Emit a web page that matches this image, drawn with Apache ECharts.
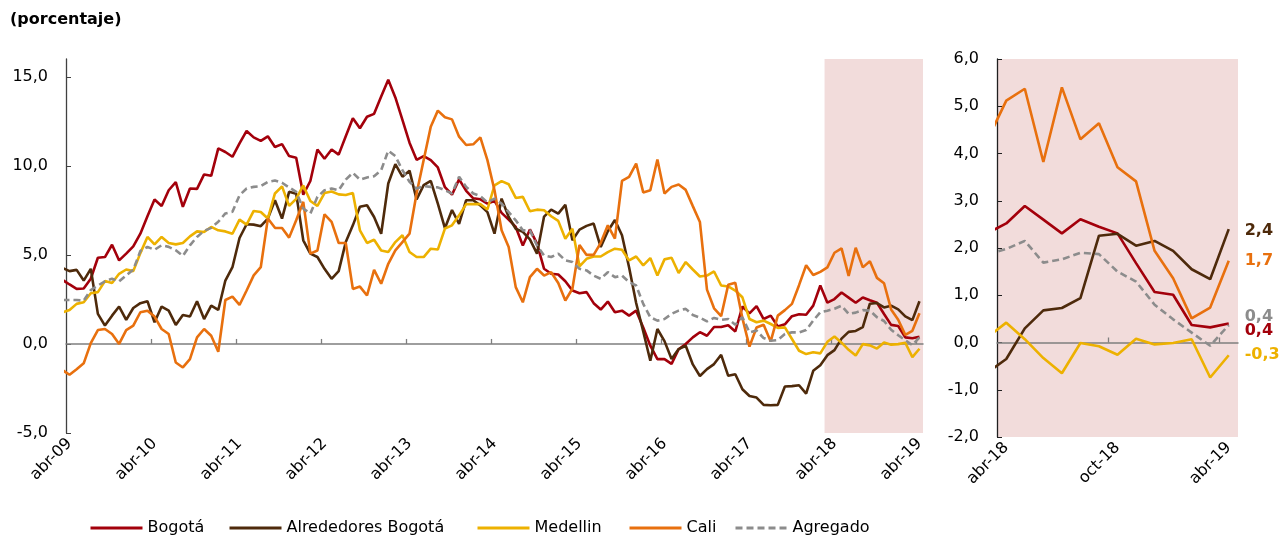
<!DOCTYPE html>
<html><head><meta charset="utf-8">
<script src="https://cdn.jsdelivr.net/npm/echarts@6/dist/echarts.min.js"></script>
<style>html,body{margin:0;padding:0;background:#fff}#c{width:1284px;height:536px}</style>
</head><body><div id="c"></div>
<script>
// Monthly series, mar-09 ... abr-19 (122 values). Left panel shows abr-09..abr-19,
// right panel zooms into abr-18..abr-19.
const leftTickLabels = ['abr-09','abr-10','abr-11','abr-12','abr-13','abr-14','abr-15','abr-16','abr-17','abr-18','abr-19'];
const rightTickLabels = ['abr-18','oct-18','abr-19'];
const seriesNames = ['Bogotá','Alrededores Bogotá','Medellin','Cali','Agregado'];

const bogota = [
 3.60, 3.34, 3.09, 3.11, 3.66, 4.84, 4.88, 5.57, 4.69, 5.07, 5.48, 6.19,
 7.17, 8.11, 7.75, 8.63, 9.09, 7.70, 8.73, 8.71, 9.52, 9.44, 10.98, 10.78,
 10.51, 11.26, 11.96, 11.60, 11.40, 11.66, 11.06, 11.22, 10.55, 10.46, 8.38, 9.15,
 10.92, 10.40, 10.92, 10.63, 11.66, 12.67, 12.11, 12.76, 12.92, 13.89, 14.83, 13.84,
 12.58, 11.30, 10.34, 10.55, 10.32, 9.91, 8.80, 8.38, 9.24, 8.60, 8.18, 8.12,
 7.88, 8.03, 7.36, 6.98, 6.57, 5.53, 6.43, 5.63, 4.22, 3.94, 3.90, 3.52,
 3.00, 2.85, 2.91, 2.29, 1.93, 2.38, 1.78, 1.87, 1.59, 1.87, 0.93, -0.10,
 -0.85, -0.85, -1.12, -0.30, 0.00, 0.37, 0.66, 0.46, 0.95, 0.95, 1.05, 0.70,
 2.10, 1.72, 2.12, 1.40, 1.59, 0.98, 1.10, 1.56, 1.67, 1.64, 2.15, 3.28,
 2.32, 2.52, 2.89, 2.60, 2.31, 2.61, 2.45, 2.31, 1.68, 1.07, 1.01, 0.37,
 0.32, 0.40
];
const alrededores = [
 4.27, 4.09, 4.16, 3.56, 4.22, 1.69, 1.03, 1.59, 2.10, 1.35, 2.02, 2.29,
 2.40, 1.22, 2.10, 1.87, 1.07, 1.63, 1.54, 2.40, 1.40, 2.15, 1.91, 3.56,
 4.31, 5.95, 6.72, 6.70, 6.61, 7.04, 8.07, 7.04, 8.54, 8.44, 5.82, 5.07,
 4.88, 4.22, 3.66, 4.09, 5.72, 6.66, 7.70, 7.79, 7.13, 6.19, 9.01, 10.10,
 9.39, 9.73, 8.11, 8.92, 9.16, 7.88, 6.50, 7.52, 6.74, 8.07, 8.07, 7.78,
 7.40, 6.19, 8.16, 7.13, 6.47, 6.29, 5.87, 5.07, 7.15, 7.54, 7.32, 7.81,
 5.82, 6.42, 6.63, 6.76, 5.44, 6.33, 6.96, 6.10, 4.31, 2.30, 0.70, -0.94,
 0.84, 0.16, -0.85, -0.29, -0.10, -1.15, -1.80, -1.41, -1.13, -0.61, -1.79, -1.70,
 -2.54, -2.92, -3.01, -3.42, -3.44, -3.42, -2.39, -2.37, -2.32, -2.79, -1.51, -1.19,
 -0.63, -0.35, 0.30, 0.68, 0.73, 0.94, 2.26, 2.30, 2.05, 2.15, 1.94, 1.55,
 1.34, 2.40
];
const medellin = [
 1.77, 1.91, 2.25, 2.34, 2.85, 2.91, 3.53, 3.42, 3.94, 4.18, 4.09, 5.10,
 6.01, 5.59, 6.01, 5.67, 5.59, 5.67, 6.04, 6.32, 6.29, 6.57, 6.38, 6.32,
 6.19, 6.98, 6.70, 7.47, 7.41, 7.04, 8.45, 8.85, 7.75, 8.15, 8.90, 8.03,
 7.75, 8.47, 8.56, 8.40, 8.36, 8.47, 6.38, 5.67, 5.85, 5.25, 5.16, 5.72,
 6.10, 5.16, 4.88, 4.88, 5.35, 5.30, 6.48, 6.66, 7.22, 7.85, 7.85, 7.85,
 7.55, 8.91, 9.14, 8.97, 8.20, 8.26, 7.45, 7.54, 7.51, 7.17, 6.91, 5.91,
 6.47, 4.36, 4.78, 4.91, 4.91, 5.16, 5.35, 5.29, 4.69, 4.91, 4.41, 4.82,
 3.84, 4.75, 4.84, 3.98, 4.60, 4.18, 3.79, 3.84, 4.07, 3.28, 3.23, 3.00,
 2.62, 1.40, 1.22, 1.31, 1.12, 0.90, 0.93, 0.28, -0.38, -0.57, -0.47, -0.53,
 0.12, 0.42, 0.07, -0.33, -0.65, -0.01, -0.08, -0.26, 0.08, -0.04, -0.01, 0.07,
 -0.74, -0.27
];
const cali = [
 -1.47, -1.73, -1.42, -1.09, 0.05, 0.78, 0.84, 0.56, 0.00, 0.78, 1.03, 1.78,
 1.87, 1.54, 0.84, 0.56, -1.04, -1.32, -0.85, 0.37, 0.84, 0.46, -0.44, 2.47,
 2.66, 2.19, 3.00, 3.85, 4.31, 7.04, 6.52, 6.51, 5.97, 6.95, 7.98, 5.07,
 5.25, 7.28, 6.85, 5.67, 5.67, 3.09, 3.22, 2.72, 4.16, 3.38, 4.50, 5.25,
 5.72, 6.19, 8.45, 10.33, 12.20, 13.10, 12.73, 12.61, 11.64, 11.17, 11.21, 11.60,
 10.32, 8.63, 6.38, 5.44, 3.19, 2.34, 3.75, 4.22, 3.84, 4.03, 3.42, 2.44,
 3.10, 5.56, 5.00, 5.00, 5.68, 6.66, 5.91, 9.15, 9.38, 10.13, 8.51, 8.63,
 10.36, 8.45, 8.82, 8.95, 8.65, 7.74, 6.85, 3.05, 2.00, 1.56, 3.32, 3.44,
 1.45, -0.15, 0.92, 1.08, 0.14, 1.59, 1.90, 2.25, 3.30, 4.42, 3.87, 4.05,
 4.30, 5.12, 5.37, 3.82, 5.40, 4.30, 4.64, 3.71, 3.41, 1.94, 1.36, 0.51,
 0.74, 1.73
];
const agregado = [
 2.47, 2.47, 2.47, 2.43, 3.03, 3.28, 3.52, 3.66, 3.51, 3.85, 4.17, 5.22,
 5.45, 5.29, 5.54, 5.45, 5.26, 4.94, 5.54, 6.01, 6.35, 6.52, 6.86, 7.33,
 7.42, 8.35, 8.73, 8.82, 8.86, 9.10, 9.18, 9.05, 8.79, 8.54, 7.60, 7.32,
 8.26, 8.63, 8.73, 8.63, 9.23, 9.61, 9.23, 9.35, 9.42, 9.76, 10.85, 10.55,
 9.76, 9.11, 8.73, 8.86, 8.82, 8.79, 8.63, 8.45, 9.39, 8.82, 8.45, 8.30,
 7.95, 8.16, 7.88, 7.41, 6.94, 6.38, 6.38, 5.53, 4.97, 4.88, 5.07, 4.69,
 4.60, 4.22, 4.13, 3.84, 3.66, 4.03, 3.75, 3.84, 3.47, 3.28, 2.25, 1.50,
 1.31, 1.40, 1.69, 1.87, 1.97, 1.63, 1.48, 1.27, 1.46, 1.35, 1.40, 1.08,
 1.50, 0.65, 0.75, 0.33, 0.18, 0.22, 0.56, 0.65, 0.65, 0.78, 1.31, 1.78,
 1.87, 1.98, 2.15, 1.69, 1.76, 1.90, 1.87, 1.50, 1.29, 0.80, 0.49, 0.21,
 -0.07, 0.37
];

const allSeries = [bogota, alrededores, medellin, cali, agregado];
const colors = ['#A3000B', '#4E2A0B', '#EDB100', '#E8700E', '#8C8C8C'];
const endLabelShift = [7, 2, 0, 0, -8];
const legendLeft = [89, 228, 476, 628, 734];
const FONT = 'DejaVu Sans';
const fmt = v => v.toFixed(1).replace('.', ',');

const series = [];
allSeries.forEach((arr, k) => {
  const s = {
    name: seriesNames[k], type: 'line', xAxisIndex: 0, yAxisIndex: 0,
    data: arr.map((v, i) => [i - 1, v]),
    symbol: 'none', z: 4, clip: true,
    lineStyle: { color: colors[k], width: 2.6, type: k === 4 ? [7, 4] : 'solid' },
    itemStyle: { color: colors[k] }
  };
  if (k === 0) {
    s.markArea = { silent: true, z: 1, itemStyle: { color: '#F2DCDB' },
      data: [[{ xAxis: 106.6 }, { xAxis: 120.5 }]] };
  }
  series.push(s);
});
allSeries.forEach((arr, k) => {
  series.push({
    name: seriesNames[k], type: 'line', xAxisIndex: 2, yAxisIndex: 1,
    data: arr.slice(-14).map((v, i) => [i - 1, v]),
    symbol: 'none', z: 4, clip: true,
    lineStyle: { color: colors[k], width: 2.6, type: k === 4 ? [7, 4] : 'solid' },
    itemStyle: { color: colors[k] },
    endLabel: { show: true, formatter: p => fmt(p.value[1]), color: colors[k],
      fontFamily: FONT, fontSize: 16, fontWeight: 'bold', distance: 16, offset: [0, endLabelShift[k]] }
  });
});

const axisText = { fontFamily: FONT, fontSize: 16, color: '#000' };
const leftLabelVals = leftTickLabels.map((_, i) => i * 12);
const rightLabelVals = rightTickLabels.map((_, i) => i * 6);

const legends = seriesNames.map((name, k) => ({
  data: [name], left: legendLeft[k], top: 520, padding: 0,
  itemWidth: 52, itemHeight: 14,
  itemStyle: { color: 'rgba(0,0,0,0)', borderColor: 'rgba(0,0,0,0)', borderWidth: 0 },
  lineStyle: { width: 3 },
  textStyle: { fontFamily: FONT, fontSize: 16, color: '#000' }
}));

const option = {
  animation: false,
  title: { text: '(porcentaje)', left: 10, top: 12, padding: 0,
    textStyle: { fontFamily: FONT, fontSize: 16, fontWeight: 'bold', color: '#000' } },
  legend: legends,
  grid: [
    { left: 66, top: 59, width: 857, height: 374 },
    { left: 997, top: 59, width: 241, height: 378, show: true, backgroundColor: '#F2DCDB', borderWidth: 0 }
  ],
  xAxis: [
    { gridIndex: 0, type: 'value', min: -0.5, max: 120.5, position: 'bottom',
      axisLine: { show: false, onZero: false }, axisTick: { show: false }, splitLine: { show: false },
      axisLabel: Object.assign({ customValues: leftLabelVals, rotate: 45, margin: 8,
        formatter: v => leftTickLabels[Math.round(v / 12)] }, axisText) },
    { gridIndex: 0, type: 'value', min: -0.5, max: 120.5, position: 'bottom', z: 3,
      axisLine: { show: true, onZero: true, lineStyle: { color: '#7F7F7F', width: 1.5 } },
      axisTick: { show: true, inside: true, length: 5, customValues: leftLabelVals.slice(1).map(v => v - 0.5),
        lineStyle: { color: '#7F7F7F', width: 1.3 } },
      axisLabel: { show: false }, splitLine: { show: false } },
    { gridIndex: 1, type: 'value', min: -0.5, max: 12.5, position: 'bottom',
      axisLine: { show: false, onZero: false }, axisTick: { show: false }, splitLine: { show: false },
      axisLabel: Object.assign({ customValues: rightLabelVals, rotate: 45, margin: 8,
        formatter: v => rightTickLabels[Math.round(v / 6)] }, axisText) },
    { gridIndex: 1, type: 'value', min: -0.5, max: 12.5, position: 'bottom', z: 3,
      axisLine: { show: true, onZero: true, lineStyle: { color: '#7F7F7F', width: 1.5 } },
      axisTick: { show: true, inside: true, length: 5, customValues: rightLabelVals.slice(1).map(v => v - 0.5),
        lineStyle: { color: '#7F7F7F', width: 1.3 } },
      axisLabel: { show: false }, splitLine: { show: false } }
  ],
  yAxis: [
    { gridIndex: 0, type: 'value', min: -5, max: 16, interval: 5,
      axisLine: { show: true, onZero: false, lineStyle: { color: '#404040', width: 1.3 } },
      axisTick: { show: true, inside: true, length: 5, customValues: [-5, 0, 5, 10, 15], lineStyle: { color: '#404040' } },
      axisLabel: Object.assign({ customValues: [-5, 0, 5, 10, 15], margin: 18,
        formatter: v => (v % 5 === 0 ? fmt(v) : '') }, axisText),
      splitLine: { show: false } },
    { gridIndex: 1, type: 'value', min: -2, max: 6, interval: 1,
      axisLine: { show: true, onZero: false, lineStyle: { color: '#202020', width: 1.3 } },
      axisTick: { show: true, inside: true, length: 5, lineStyle: { color: '#202020' } },
      axisLabel: Object.assign({ margin: 18, formatter: v => fmt(v) }, axisText),
      splitLine: { show: false } }
  ],
  series: series
};

const chart = echarts.init(document.getElementById('c'), null, { renderer: 'canvas' });
chart.setOption(option);
</script>
</body></html>
